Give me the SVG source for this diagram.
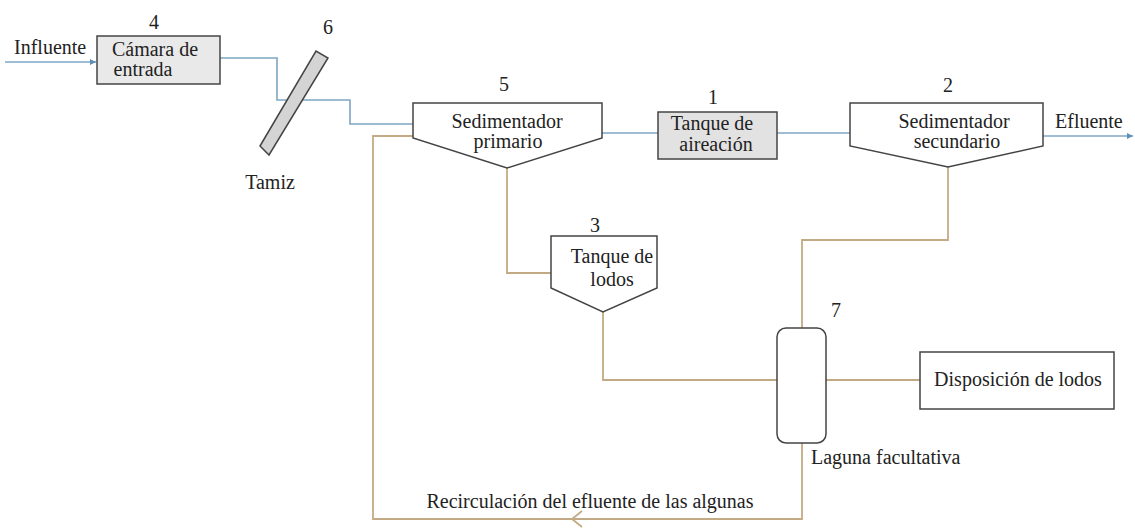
<svg xmlns="http://www.w3.org/2000/svg" width="1135" height="529" viewBox="0 0 1135 529">
<style>
text{font-family:'Liberation Serif','Times New Roman',serif;font-size:20px;fill:#222}
.num{font-size:20px}
.node{stroke:#444;stroke-width:1.5}
.blue{fill:none;stroke:#7ea6c4;stroke-width:1.6}
.tan{fill:none;stroke:#c4aa84;stroke-width:1.8}
</style>
<defs>
<marker id="ab" markerWidth="8" markerHeight="8" refX="6" refY="4" orient="auto" markerUnits="userSpaceOnUse"><path d="M0,1 L6,4 L0,7 z" fill="#5f8fb5"/></marker>
</defs>
<rect width="1135" height="529" fill="#fff"/>
<g id="connectors">
<path class="blue" d="M5,62 H96" marker-end="url(#ab)"/>
<path class="blue" d="M220,58 H277 V100 H350 V124 H413"/>
<path class="blue" d="M602,133 H658"/>
<path class="blue" d="M777,133 H850"/>
<path class="blue" d="M1043,136 H1133" marker-end="url(#ab)"/>
<path class="tan" d="M507,168 V273 H551"/>
<path class="tan" d="M603,312 V380 H777"/>
<path class="tan" d="M948,167 V240 H802 V328"/>
<path class="tan" d="M826,380 H920"/>
<path class="tan" d="M802,443 V519 H373 V136 H413"/>
<path class="tan" d="M582,511 L572,519 L582,527"/>
</g>
<g id="n4">
<rect class="node" x="97" y="36" width="123" height="48" fill="#e9e9e9"/>
<text x="154" y="29" class="num" text-anchor="middle">4</text>
<text x="155" y="56" text-anchor="middle">Cámara de</text>
<text x="143" y="76" text-anchor="middle">entrada</text>
</g>
<g id="n6">
<polygon class="node" points="260,146 269,155 328,58 316,51" fill="#d4d4d4"/>
<text x="328" y="34" class="num" text-anchor="middle">6</text>
<text x="270" y="189" text-anchor="middle">Tamiz</text>
</g>
<g id="n5">
<polygon class="node" points="413,103 602,103 602,138 507,168 413,138" fill="#fff"/>
<text x="504" y="91" class="num" text-anchor="middle">5</text>
<text x="507" y="128" text-anchor="middle">Sedimentador</text>
<text x="508" y="148" text-anchor="middle">primario</text>
</g>
<g id="n1">
<rect class="node" x="658" y="112" width="119" height="47" fill="#e2e2e2"/>
<text x="713" y="104" class="num" text-anchor="middle">1</text>
<text x="712" y="130" text-anchor="middle">Tanque de</text>
<text x="716" y="151" text-anchor="middle">aireación</text>
</g>
<g id="n2">
<polygon class="node" points="850,103 1043,103 1043,146 948,167 850,146" fill="#fff"/>
<text x="948" y="92" class="num" text-anchor="middle">2</text>
<text x="954" y="128" text-anchor="middle">Sedimentador</text>
<text x="957" y="148" text-anchor="middle">secundario</text>
<text x="1055" y="128">Efluente</text>
</g>
<g id="influente">
<text x="14" y="54">Influente</text>
</g>
<g id="n3">
<polygon class="node" points="551,236 657,236 657,288 603,312 551,288" fill="#fff"/>
<text x="595" y="232" class="num" text-anchor="middle">3</text>
<text x="612" y="263" text-anchor="middle">Tanque de</text>
<text x="612" y="286" text-anchor="middle">lodos</text>
</g>
<g id="n7">
<rect class="node" x="777" y="328" width="49" height="115" rx="9" fill="#fff"/>
<text x="836" y="317" class="num" text-anchor="middle">7</text>
<text x="811" y="464">Laguna facultativa</text>
</g>
<g id="n8">
<rect class="node" x="920" y="352" width="194" height="57" fill="#fff"/>
<text x="1018" y="386" text-anchor="middle">Disposición de lodos</text>
</g>
<g id="recirc">
<text x="590" y="508" text-anchor="middle">Recirculación del efluente de las algunas</text>
</g>
</svg>
